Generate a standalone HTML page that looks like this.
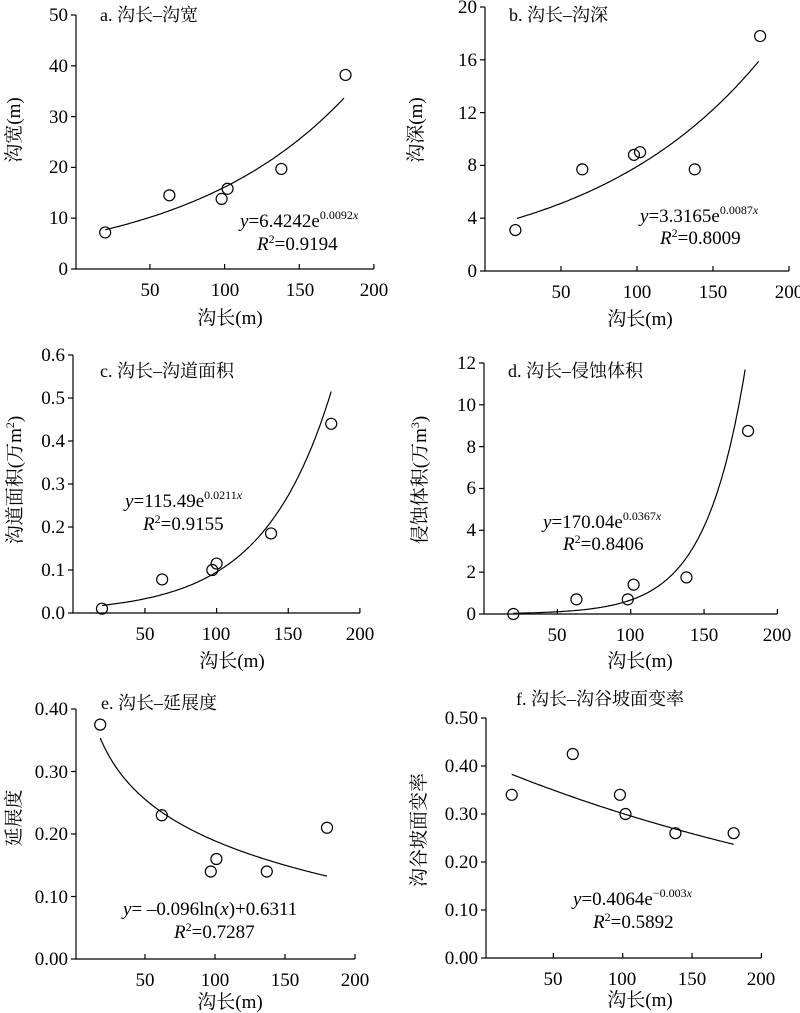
<!DOCTYPE html>
<html><head><meta charset="utf-8"><style>
body{margin:0;background:#fff}
svg{display:block}
text{font-family:"Liberation Serif","Noto Serif CJK SC",serif;fill:#000}
.t{font-size:19px}
.ti{font-size:18px}
.eq{font-size:19px}
.ax{font-size:19px}
</style></head><body>
<svg id="s" width="800" height="1013" viewBox="0 0 800 1013" xmlns="http://www.w3.org/2000/svg">
<g id="g" stroke="#000" fill="none" stroke-width="1.2"></g>
<g class="t" text-anchor="end">
<text x="68" y="275">0</text><text x="68" y="224">10</text><text x="68" y="173">20</text><text x="68" y="123">30</text><text x="68" y="72">40</text><text x="68" y="21">50</text>
<text x="477" y="277">0</text><text x="477" y="224">4</text><text x="477" y="171">8</text><text x="477" y="119">12</text><text x="477" y="66">16</text><text x="477" y="13">20</text>
<text x="65" y="619">0.0</text><text x="65" y="576">0.1</text><text x="65" y="533">0.2</text><text x="65" y="490">0.3</text><text x="65" y="447">0.4</text><text x="65" y="404">0.5</text><text x="65" y="361">0.6</text>
<text x="476" y="620">0</text><text x="476" y="578">2</text><text x="476" y="536">4</text><text x="476" y="494">6</text><text x="476" y="453">8</text><text x="476" y="411">10</text><text x="476" y="369">12</text>
<text x="68" y="965">0.00</text><text x="68" y="903">0.10</text><text x="68" y="840">0.20</text><text x="68" y="778">0.30</text><text x="68" y="715">0.40</text>
<text x="478" y="964">0.00</text><text x="478" y="916">0.10</text><text x="478" y="868">0.20</text><text x="478" y="820">0.30</text><text x="478" y="772">0.40</text><text x="478" y="724">0.50</text>
</g>
<g class="t" text-anchor="middle">
<text x="150" y="296">50</text><text x="225" y="296">100</text><text x="300" y="296">150</text><text x="374" y="296">200</text>
<text x="561" y="298">50</text><text x="637" y="298">100</text><text x="713" y="298">150</text><text x="789" y="298">200</text>
<text x="145" y="640">50</text><text x="216" y="640">100</text><text x="288" y="640">150</text><text x="360" y="640">200</text>
<text x="557" y="641">50</text><text x="630" y="641">100</text><text x="704" y="641">150</text><text x="777" y="641">200</text>
<text x="145" y="986">50</text><text x="215" y="986">100</text><text x="285" y="986">150</text><text x="355" y="986">200</text>
<text x="553" y="985">50</text><text x="622" y="985">100</text><text x="692" y="985">150</text><text x="761" y="985">200</text>
</g>
<g class="ax" text-anchor="middle">
<text x="230" y="324">沟长(m)</text><text x="640" y="325">沟长(m)</text>
<text x="232" y="667">沟长(m)</text><text x="640" y="667">沟长(m)</text>
<text x="230" y="1008">沟长(m)</text><text x="640" y="1006">沟长(m)</text>
<text transform="translate(20,130) rotate(-90)">沟宽(m)</text>
<text transform="translate(422,130) rotate(-90)">沟深(m)</text>
<text transform="translate(21,480) rotate(-90)">沟道面积(万m<tspan font-size="12" dy="-7">2</tspan><tspan dy="7">)</tspan></text>
<text transform="translate(426,480) rotate(-90)">侵蚀体积(万m<tspan font-size="12" dy="-7">3</tspan><tspan dy="7">)</tspan></text>
<text transform="translate(20,818) rotate(-90)">延展度</text>
<text transform="translate(425,830) rotate(-90)">沟谷坡面变率</text>
</g>
<g class="ti">
<text x="100" y="21">a. 沟长–沟宽</text>
<text x="509" y="21">b. 沟长–沟深</text>
<text x="100" y="377">c. 沟长–沟道面积</text>
<text x="508" y="377">d. 沟长–侵蚀体积</text>
<text x="101" y="709">e. 沟长–延展度</text>
<text x="516" y="705">f. 沟长–沟谷坡面变率</text>
</g>
<g class="eq">
<text x="240" y="227"><tspan font-style="italic">y</tspan>=6.4242e<tspan font-size="12" dy="-8">0.0092<tspan font-style="italic">x</tspan></tspan></text>
<text x="257" y="250"><tspan font-style="italic">R</tspan><tspan font-size="12" dy="-7">2</tspan><tspan dy="7">=0.9194</tspan></text>
<text x="640" y="222"><tspan font-style="italic">y</tspan>=3.3165e<tspan font-size="12" dy="-8">0.0087<tspan font-style="italic">x</tspan></tspan></text>
<text x="660" y="244"><tspan font-style="italic">R</tspan><tspan font-size="12" dy="-7">2</tspan><tspan dy="7">=0.8009</tspan></text>
<text x="125" y="507"><tspan font-style="italic">y</tspan>=115.49e<tspan font-size="12" dy="-8">0.0211<tspan font-style="italic">x</tspan></tspan></text>
<text x="143" y="530"><tspan font-style="italic">R</tspan><tspan font-size="12" dy="-7">2</tspan><tspan dy="7">=0.9155</tspan></text>
<text x="543" y="528"><tspan font-style="italic">y</tspan>=170.04e<tspan font-size="12" dy="-8">0.0367<tspan font-style="italic">x</tspan></tspan></text>
<text x="563" y="550"><tspan font-style="italic">R</tspan><tspan font-size="12" dy="-7">2</tspan><tspan dy="7">=0.8406</tspan></text>
<text x="123" y="915"><tspan font-style="italic">y</tspan>= –0.096ln(<tspan font-style="italic">x</tspan>)+0.6311</text>
<text x="174" y="938"><tspan font-style="italic">R</tspan><tspan font-size="12" dy="-7">2</tspan><tspan dy="7">=0.7287</tspan></text>
<text x="573" y="905"><tspan font-style="italic">y</tspan>=0.4064e<tspan font-size="12" dy="-8">−0.003<tspan font-style="italic">x</tspan></tspan></text>
<text x="593" y="928"><tspan font-style="italic">R</tspan><tspan font-size="12" dy="-7">2</tspan><tspan dy="7">=0.5892</tspan></text>
</g>
</svg>
<script>
var P=[
{ax:76,x0:75.3,sx:1.493,y0:269,sy:5.08,ymax:50,yt:[0,10,20,30,40,50],xt:[50,100,150,200],
 f:function(x){return 6.4242*Math.exp(0.0092*x)},r:[20,180],
 pts:[[20,7.2],[63,14.5],[98,13.8],[102,15.8],[138,19.7],[181,38.2]]},
{ax:485,x0:485,sx:1.52,y0:271,sy:13.2,ymax:20,yt:[0,4,8,12,16,20],xt:[50,100,150,200],
 f:function(x){return 3.3165*Math.exp(0.0087*x)},r:[21,180],
 pts:[[20,3.1],[64,7.7],[98,8.8],[102,9],[138,7.7],[181,17.8]]},
{ax:73,x0:73.3,sx:1.433,y0:613,sy:430,ymax:0.6,yt:[0,.1,.2,.3,.4,.5,.6],xt:[50,100,150,200],
 f:function(x){return 115.49*Math.exp(0.0211*x)/10000},r:[20,180],
 pts:[[20,0.01],[62,0.078],[97,0.1],[100,0.115],[138,0.185],[180,0.44]]},
{ax:484,x0:484,sx:1.467,y0:614,sy:20.92,ymax:12,yt:[0,2,4,6,8,10,12],xt:[50,100,150,200],
 f:function(x){return 170.04*Math.exp(0.0367*x)/10000},r:[20,178],
 pts:[[20,0],[63,0.7],[98,0.7],[102,1.4],[138,1.75],[180,8.75]]},
{ax:76,x0:75,sx:1.4,y0:959,sy:625,ymax:0.4,yt:[0,.1,.2,.3,.4],xt:[50,100,150,200],
 f:function(x){return -0.096*Math.log(x)+0.6311},r:[18,180],
 pts:[[18,0.375],[62,0.23],[97,0.14],[101,0.16],[137,0.14],[180,0.21]]},
{ax:486,x0:484,sx:1.387,y0:958,sy:480,ymax:0.5,yt:[0,.1,.2,.3,.4,.5],xt:[50,100,150,200],
 f:function(x){return 0.4064*Math.exp(-0.003*x)},r:[20,180],
 pts:[[20,0.34],[64,0.425],[98,0.34],[102,0.30],[138,0.26],[180,0.26]]}
];
var g=document.getElementById('g'),h='';
P.forEach(function(p){
 var X=function(v){return p.x0+v*p.sx},Y=function(v){return p.y0-v*p.sy};
 var xe=X(200),yt=Y(p.ymax);
 h+='<path d="M'+p.ax+' '+yt+'V'+p.y0+'H'+xe+'"/>';
 p.yt.forEach(function(v){h+='<path d="M'+(p.ax-5)+' '+Y(v)+'H'+p.ax+'"/>'});
 p.xt.forEach(function(v){h+='<path d="M'+X(v)+' '+p.y0+'V'+(p.y0-5)+'"/>'});
 var d='';for(var x=p.r[0];x<=p.r[1]+0.01;x+=1){var y=Math.max(Y(p.f(x)),yt);d+=(d?'L':'M')+X(x).toFixed(1)+' '+y.toFixed(1)}
 h+='<path d="'+d+'"/>';
 p.pts.forEach(function(q){h+='<circle cx="'+X(q[0])+'" cy="'+Y(q[1])+'" r="5.5"/>'});
});
g.innerHTML=h;
</script>
</body></html>
